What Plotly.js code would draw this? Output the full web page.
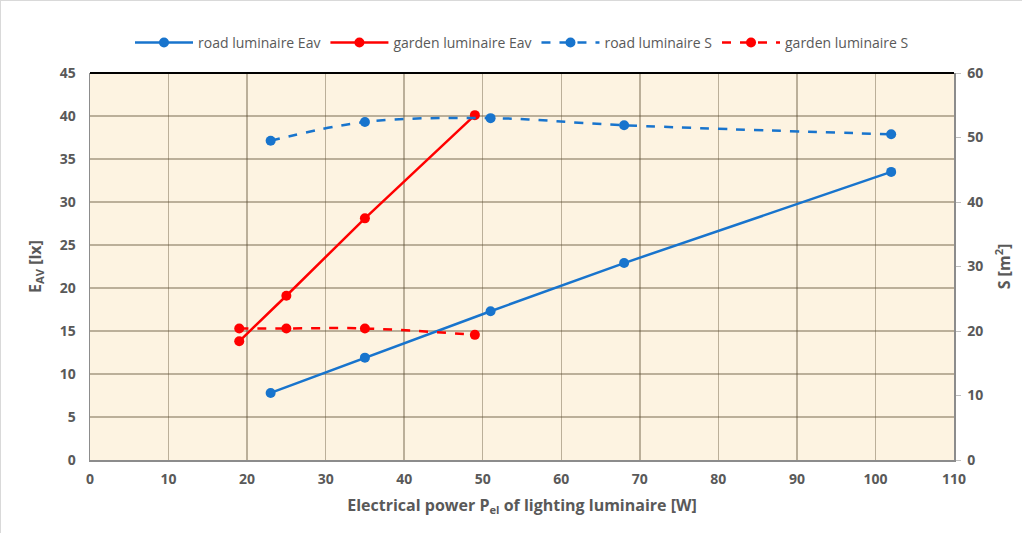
<!DOCTYPE html>
<html>
<head>
<meta charset="utf-8">
<script src="https://cdn.plot.ly/plotly-3.0.1.min.js"></script>
<style>
html,body{margin:0;padding:0;background:#fff;}
#chart{width:1022px;height:533px;box-sizing:border-box;border:1px solid #d9d9d9;}
</style>
</head>
<body>
<div id="chart"></div>
<script>
// Data
const roadPower = [23, 35, 51, 68, 102];
const roadEav = [7.8, 11.9, 17.3, 22.9, 33.5];
const roadS = [49.5, 52.4, 53.0, 51.9, 50.5];
const gardenPower = [19, 25, 35, 49];
const gardenEav = [13.8, 19.1, 28.1, 40.1];
const gardenS = [20.4, 20.4, 20.4, 19.4];

const blue = '#1874CD';
const red = '#FF0000';

const traces = [
  {x: roadPower, y: roadEav, name: 'road luminaire Eav', type: 'scatter', mode: 'lines+markers',
   line: {color: blue, width: 2.5}, marker: {color: blue, size: 10}},
  {x: gardenPower, y: gardenEav, name: 'garden luminaire Eav', type: 'scatter', mode: 'lines+markers',
   line: {color: red, width: 2.5}, marker: {color: red, size: 10}},
  {x: roadPower, y: roadS, name: 'road luminaire S', type: 'scatter', mode: 'lines+markers', yaxis: 'y2',
   line: {color: blue, width: 2.5, dash: 'dash', shape: 'spline'}, marker: {color: blue, size: 10}},
  {x: gardenPower, y: gardenS, name: 'garden luminaire S', type: 'scatter', mode: 'lines+markers', yaxis: 'y2',
   line: {color: red, width: 2.5, dash: 'dash', shape: 'spline'}, marker: {color: red, size: 10}}
];

const fam = 'Open Sans, Liberation Sans, sans-serif';
const tickFont = {family: fam, size: 14, color: '#595959', weight: 'bold'};
const titleFont = {family: fam, size: 16, color: '#595959', weight: 'bold'};
const gridCol = 'rgba(95,80,55,0.42)';

const layout = {
  width: 1022, height: 533,
  margin: {l: 89, r: 69, t: 72, b: 74},
  paper_bgcolor: '#ffffff',
  plot_bgcolor: '#FDF3E1',
  showlegend: true,
  legend: {orientation: 'h', x: 0.5, xanchor: 'center', y: 1.078, yanchor: 'middle',
           font: {family: fam, size: 14, color: '#595959'},
           itemwidth: 58, tracegroupgap: 0},
  xaxis: {range: [0, 110], dtick: 10, tick0: 0, showgrid: true, gridcolor: gridCol, gridwidth: 1.5,
          zeroline: false, showline: true, linecolor: '#8c8c8c', linewidth: 1.5,
          ticks: '', tickfont: tickFont, ticklabelstandoff: 6,
          title: {text: 'Electrical power P<sub>el</sub> of lighting luminaire [W]', font: titleFont, standoff: 12}},
  yaxis: {range: [0, 45], dtick: 5, tick0: 0, showgrid: true, gridcolor: gridCol, gridwidth: 1.5,
          zeroline: false, showline: true, linecolor: '#8c8c8c', linewidth: 1.5,
          ticks: '', tickfont: tickFont, ticklabelstandoff: 10,
          title: {text: 'E<sub>AV</sub> [lx]', font: titleFont, standoff: 14}},
  yaxis2: {range: [0, 60], dtick: 10, tick0: 0, overlaying: 'y', side: 'right', showgrid: false,
           zeroline: false, showline: true, linecolor: '#8c8c8c', linewidth: 1.5,
           ticks: 'outside', ticklen: 5, tickcolor: '#bfbfbf', tickfont: tickFont, ticklabelstandoff: 4,
           title: {text: 'S [m<sup>2</sup>]', font: titleFont, standoff: 16}},
  shapes: [
    {type: 'line', xref: 'paper', yref: 'paper', x0: 0, x1: 1, y0: 1, y1: 1, line: {color: '#000000', width: 2}}
  ]
};

Plotly.newPlot('chart', traces, layout, {displayModeBar: false, staticPlot: true});
</script>
</body>
</html>
